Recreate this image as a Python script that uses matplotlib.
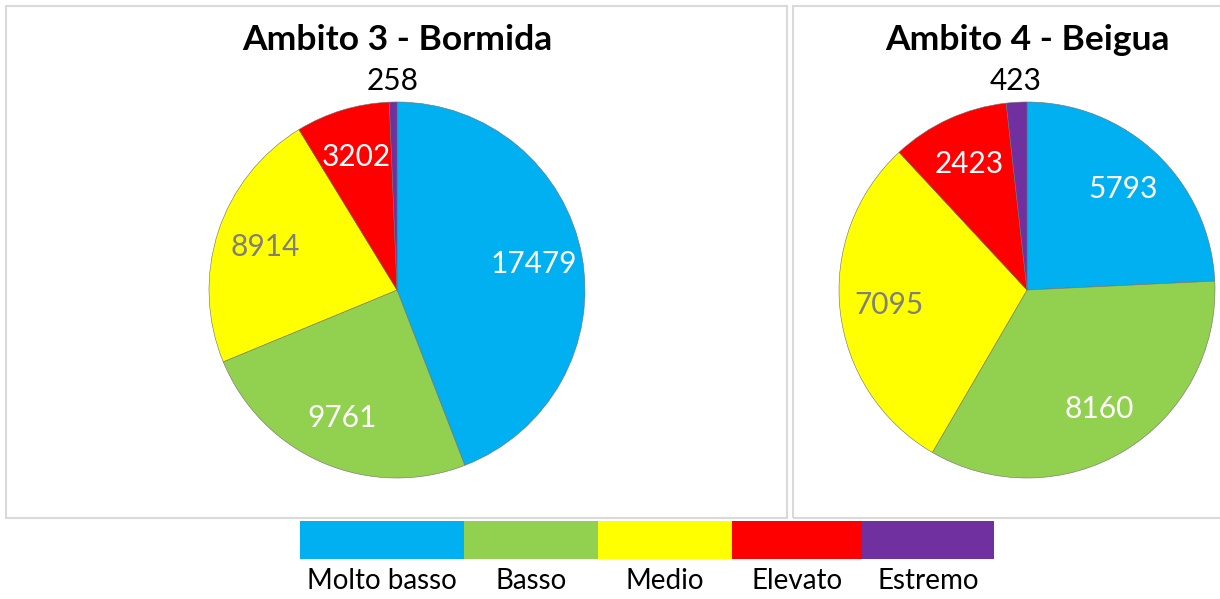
import matplotlib
matplotlib.use("Agg")
import matplotlib.pyplot as plt
from matplotlib.patches import Rectangle
import numpy as np

plt.rcParams['font.family'] = ['Lato', 'DejaVu Sans']

categories = ['Molto basso', 'Basso', 'Medio', 'Elevato', 'Estremo']
colors = ['#00B0F0', '#92D050', '#FFFF00', '#FF0000', '#7030A0']
label_colors = ['white', 'white', '#7f7f7f', 'white', 'black']
bormida = [17479, 9761, 8914, 3202, 258]
beigua = [5793, 8160, 7095, 2423, 423]
titles = ['Ambito 3 - Bormida', 'Ambito 4 - Beigua']

W, H = 1220, 599
fig = plt.figure(figsize=(W / 100, H / 100), dpi=100)


def px(x, y):
    # pixel (from top-left) -> figure fraction
    return x / W, 1 - y / H


# panel frames
for x0, x1 in [(6, 787), (793, 1226)]:
    fig.patches.append(Rectangle(px(x0, 518), (x1 - x0) / W, 512 / H,
                                 transform=fig.transFigure, fill=False,
                                 edgecolor='#d9d9d9', lw=1.5))

# tail of a title cut off at the top edge
fig.text(*px(568, -5), 'g', ha='center', va='baseline', fontsize=22,
         fontweight='bold')


def draw_pie(cx, values, title):
    r = 188
    x0, y0 = px(cx - r, 290 + r)
    ax = fig.add_axes([x0, y0, 2 * r / W, 2 * r / H])
    wedges, texts = ax.pie(values, colors=colors, startangle=90,
                           counterclock=False, radius=1,
                           labels=[str(v) for v in values], labeldistance=0.74,
                           wedgeprops=dict(edgecolor='#6f6f6f', linewidth=0.4),
                           textprops=dict(fontsize=21.5))
    for w, t, c in zip(wedges, texts, label_colors):
        t.set_color(c)
        t.set_ha('center')
        t.set_va('center')
        t.set_clip_on(False)
    # smallest slice: label outside, above the pie
    ang = np.deg2rad((wedges[-1].theta1 + wedges[-1].theta2) / 2)
    texts[-1].set_position((1.10 * np.cos(ang), 1.11))
    ax.set_xlim(-1, 1)
    ax.set_ylim(-1, 1)
    ax.set_aspect('equal')
    fig.text(*px(cx, 40), title, ha='center', va='center', fontsize=25.5,
             fontweight='bold')


draw_pie(397, bormida, titles[0])
draw_pie(1027, beigua, titles[1])

# legend strip
edges = [300, 464, 598, 732, 862, 994]
for i, (c, lab) in enumerate(zip(colors, categories)):
    a, b = edges[i], edges[i + 1]
    fig.patches.append(Rectangle(px(a, 559), (b - a) / W, 38 / H,
                                 transform=fig.transFigure, color=c, lw=0))
    fig.text(*px((a + b) / 2, 581), lab, ha='center', va='center', fontsize=20)

fig.savefig('out.png', dpi=100)
